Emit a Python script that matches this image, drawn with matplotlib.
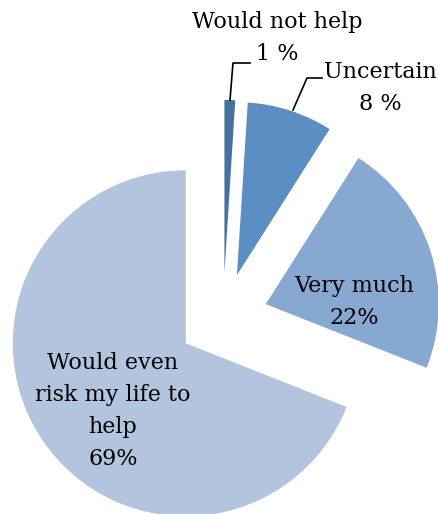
import matplotlib.pyplot as plt

# answers, clockwise from 12 o'clock
labels = ['Would not help', 'Uncertain', 'Very much', 'Would even\nrisk my life to\nhelp']
values = [1, 8, 22, 69]
pct_fmt = ['{} %', '{} %', '{}%', '{}%']
colors = ['#4672a0', '#5b8ec3', '#87a8d0', '#b2c4de']

W, H = 438, 514
fig = plt.figure(figsize=(W/100, H/100), dpi=100)
ax = fig.add_axes([0, 0, 1, 1])

R = 173
cx, cy = 223, H - 318
# explode is in data units here (pixels), not a fraction of R
ax.pie(values, colors=colors, startangle=90, counterclock=False,
       center=(cx, cy), radius=R, explode=[45]*4, frame=True,
       wedgeprops=dict(linewidth=0))
ax.set_xlim(0, W)
ax.set_ylim(0, H)
ax.set_aspect('equal')
ax.axis('off')

font = dict(family='DejaVu Serif', fontsize=16, ha='center', va='center',
            linespacing=1.6)
txt = [l + '\n' + f.format(v) for l, f, v in zip(labels, pct_fmt, values)]

ax.text(277, H - 38, txt[0], **font)
ax.text(380, H - 88, txt[1], **font)
ax.text(354, H - 302, txt[2], **font)
ax.text(113, H - 411, txt[3], **font)

# leader lines for the two small slices
ax.plot([230, 233, 250], [H - 100, H - 63, H - 63], color='black', lw=1.2)
ax.plot([293, 307, 322], [H - 110, H - 78, H - 78], color='black', lw=1.2)

fig.savefig('out.png', dpi=100)
